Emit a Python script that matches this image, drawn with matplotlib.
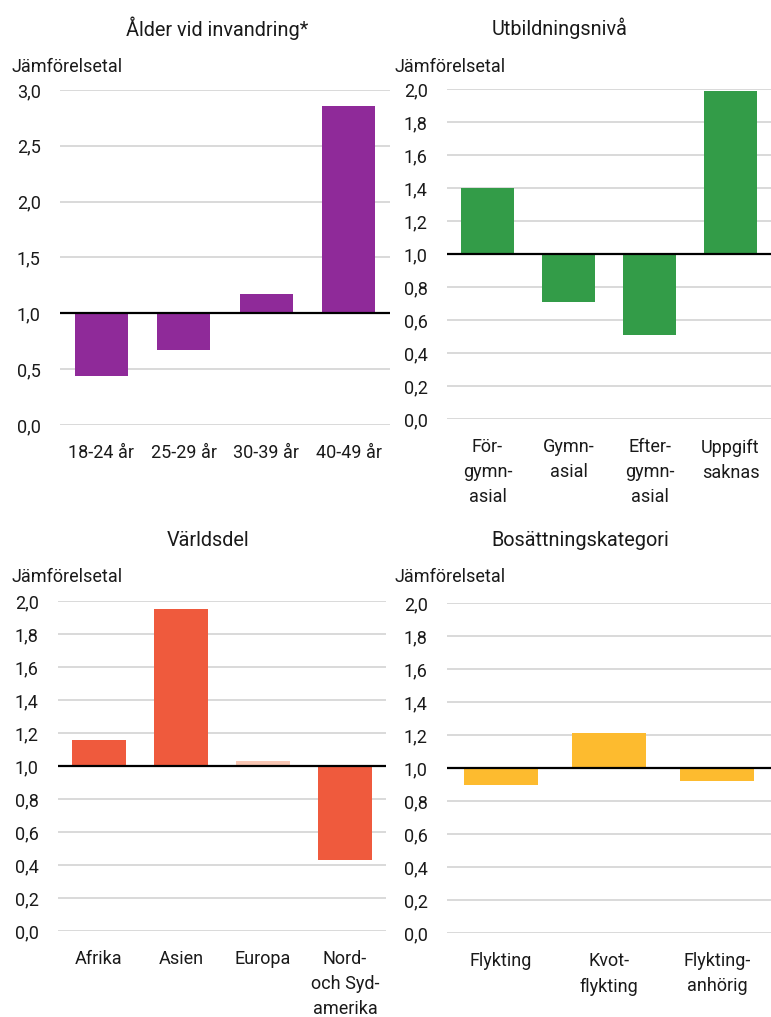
import matplotlib
matplotlib.use("Agg")
import matplotlib.pyplot as plt
import numpy as np

# data (comparison figures, baseline 1.0)
age_labels = ["18-24 år", "25-29 år", "30-39 år", "40-49 år"]
age_values = [0.44, 0.67, 1.17, 2.86]

edu_labels = ["För-\ngymn-\nasial", "Gymn-\nasial", "Efter-\ngymn-\nasial", "Uppgift\nsaknas"]
edu_values = [1.40, 0.71, 0.51, 1.99]

region_labels = ["Afrika", "Asien", "Europa", "Nord-\noch Syd-\namerika"]
region_values = [1.16, 1.95, 1.03, 0.43]

settle_labels = ["Flykting", "Kvot-\nflykting", "Flykting-\nanhörig"]
settle_values = [0.90, 1.21, 0.92]

W, H = 771, 1017

plt.rcParams.update({
    "font.family": ["Roboto", "DejaVu Sans"],
    "font.size": 13,
})


def px_axes(fig, left, right, top, bottom):
    return fig.add_axes([left / W, 1 - bottom / H, (right - left) / W, (bottom - top) / H])


def panel(fig, box, title, title_xy, ylab_xy, labels, values, colors, ymax, step, width):
    ax = px_axes(fig, *box)
    x = np.arange(len(labels))
    heights = np.array(values) - 1.0
    ax.bar(x, heights, bottom=1.0, width=width, color=colors, zorder=3)
    ax.axhline(1.0, color="black", linewidth=1.6, zorder=4)
    ax.set_ylim(0, ymax)
    ax.set_xlim(-0.5, len(labels) - 0.5)
    ticks = np.arange(0, ymax + step / 2, step)
    ax.set_yticks(ticks)
    ax.set_yticklabels([f"{t:.1f}".replace(".", ",") for t in ticks])
    ax.set_xticks(x)
    ax.set_xticklabels(labels, linespacing=1.5)
    ax.tick_params(axis="both", length=0, colors="#1a1a1a")
    ax.tick_params(axis="y", pad=14)
    ax.tick_params(axis="x", pad=14)
    ax.grid(axis="y", color="#d9d9d9", linewidth=1.4, zorder=0)
    for s in ax.spines.values():
        s.set_visible(False)
    fig.text(title_xy[0] / W, 1 - title_xy[1] / H, title, ha="center", va="center",
             fontsize=14.3, color="#1a1a1a")
    fig.text(ylab_xy[0] / W, 1 - ylab_xy[1] / H, "Jämförelsetal", ha="left", va="center",
             fontsize=13, color="#1a1a1a")
    return ax


fig = plt.figure(figsize=(W / 100, H / 100), dpi=100)

panel(fig, (60, 390, 90, 425), "Ålder vid invandring*", (217, 28), (12, 67),
      age_labels, age_values, "#8f2a99", 3.0, 0.5, 0.64)
panel(fig, (447, 771, 89, 419), "Utbildningsnivå", (560, 28), (395, 67),
      edu_labels, edu_values, "#339c48", 2.0, 0.2, 0.66)
panel(fig, (58, 386, 601, 931), "Världsdel", (208, 540), (12, 577),
      region_labels, region_values,
      ["#ef5a3d", "#ef5a3d", "#f9c6b3", "#ef5a3d"], 2.0, 0.2, 0.66)
panel(fig, (447, 771, 603, 933), "Bosättningskategori", (580, 540), (395, 577),
      settle_labels, settle_values, "#fdbb2f", 2.0, 0.2, 0.68)

fig.savefig("out.png", dpi=100)
